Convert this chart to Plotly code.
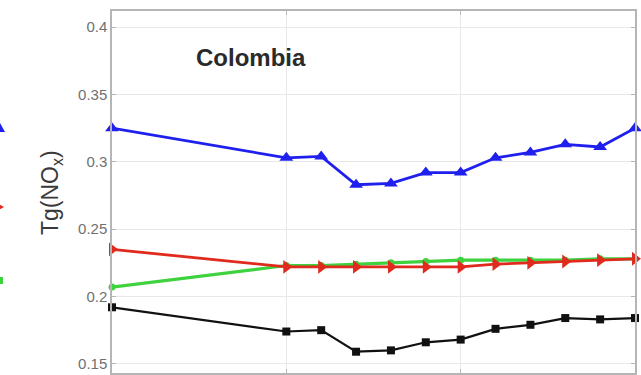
import plotly.graph_objects as go

# Annual NOx emissions, Colombia (Tg)
years = [2000, 2005, 2006, 2007, 2008, 2009, 2010, 2011, 2012, 2013, 2014, 2015]
series_blue = [0.325, 0.303, 0.304, 0.283, 0.284, 0.292, 0.292, 0.303, 0.307, 0.313, 0.311, 0.325]
series_red = [0.235, 0.222, 0.222, 0.222, 0.222, 0.222, 0.222, 0.224, 0.225, 0.226, 0.227, 0.228]
series_green = [0.207, 0.223, 0.223, 0.224, 0.225, 0.226, 0.227, 0.227, 0.227, 0.227, 0.228, 0.228]
series_black = [0.192, 0.174, 0.175, 0.159, 0.160, 0.166, 0.168, 0.176, 0.179, 0.184, 0.183, 0.184]

y_ticks = [0.15, 0.2, 0.25, 0.3, 0.35, 0.4]
x_ticks = [2000, 2005, 2010, 2015]

W, H = 641, 375
ML, MR, MT, MB = 112, 6, 11, 2
plot_w = W - ML - MR
plot_h = H - MT - MB

BLUE, RED, GREEN, BLACK = "#1f1fee", "#e02a1e", "#3fd23f", "#111111"

fig = go.Figure()

def add_series(y, color, symbol, msize, lw):
    fig.add_trace(go.Scatter(
        x=years, y=y, mode="lines+markers",
        line=dict(color=color, width=lw),
        marker=dict(symbol=symbol, size=msize, color=color),
        cliponaxis=False, showlegend=False,
    ))

add_series(series_green, GREEN, "circle", 7, 3.2)
add_series(series_red, RED, "triangle-right", 12, 2.8)
add_series(series_blue, BLUE, "triangle-up", 12, 2.8)
add_series(series_black, BLACK, "square", 8, 2.2)

axis_common = dict(
    showline=True, linecolor="#b5b5b5", linewidth=1.5, mirror="ticks",
    ticks="inside", ticklen=4, tickcolor="#b5b5b5",
    showgrid=True, gridcolor="#e8e8e8", gridwidth=1, zeroline=False,
)

fig.update_xaxes(range=[2000, 2015], tickvals=x_ticks, showticklabels=False, **axis_common)
fig.update_yaxes(range=[0.1432, 0.412], tickvals=y_ticks,
                 ticktext=[f"{v:g}" for v in y_ticks],
                 tickfont=dict(family="Liberation Sans, Arial", size=15, color="#707070"),
                 **axis_common)

# Country label inside the axes
fig.add_annotation(text="<b>Colombia</b>", xref="paper", yref="paper",
                   x=(251 - ML) / plot_w, y=1 - (57 - MT) / plot_h,
                   showarrow=False, xanchor="center", yanchor="middle",
                   font=dict(family="Liberation Sans, Arial", size=24, color="#2a2a2a"))

# Y axis title
fig.add_annotation(text="Tg(NO<sub>x</sub>)", xref="paper", yref="paper",
                   x=(51 - ML) / plot_w, y=1 - (193 - MT) / plot_h,
                   showarrow=False, textangle=-90, xanchor="center", yanchor="middle",
                   font=dict(family="Liberation Sans, Arial", size=23, color="#3a3a3a"))

# Edge of the neighbouring panel's series along the left border (pixel-sized glyphs)
def px_x(p):
    return (p - ML) / plot_w

def px_y(p):
    return 1 - (p - MT) / plot_h

tri_up = f"M {px_x(-5)},{px_y(132)} L {px_x(0)},{px_y(123)} L {px_x(5)},{px_y(132)} Z"
tri_right = f"M {px_x(-5)},{px_y(202)} L {px_x(4)},{px_y(207)} L {px_x(-5)},{px_y(212)} Z"
fig.add_shape(type="path", path=tri_up, xref="paper", yref="paper",
              fillcolor=BLUE, line=dict(width=0))
fig.add_shape(type="path", path=tri_right, xref="paper", yref="paper",
              fillcolor=RED, line=dict(width=0))
fig.add_shape(type="rect", xref="paper", yref="paper",
              x0=px_x(-4), x1=px_x(3), y0=px_y(284), y1=px_y(277),
              fillcolor=GREEN, line=dict(width=0))

fig.update_layout(
    width=W, height=H,
    margin=dict(l=ML, r=MR, t=MT, b=MB, autoexpand=False),
    paper_bgcolor="white", plot_bgcolor="white",
)

fig.write_html("out.html")
